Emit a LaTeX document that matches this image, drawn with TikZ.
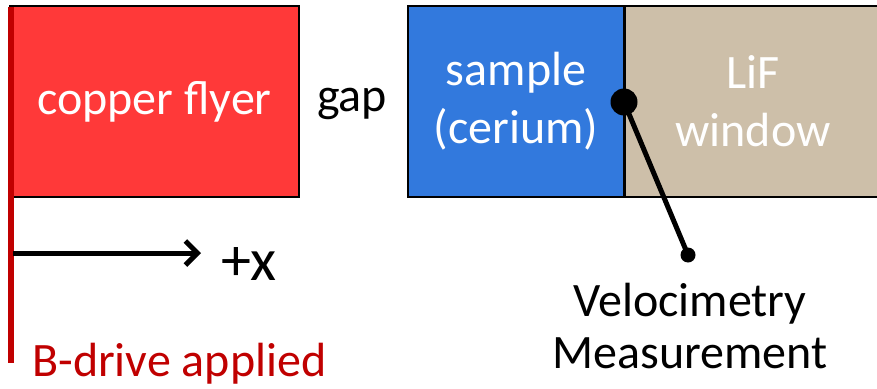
\documentclass[tikz,border=0pt]{standalone}
\usepackage{fontspec}
\setmainfont{Carlito}
\usetikzlibrary{arrows.meta}

\definecolor{flyerred}{HTML}{FF3939}
\definecolor{drivered}{HTML}{C00000}
\definecolor{ceblue}{HTML}{3279DD}
\definecolor{liftan}{HTML}{CDBFA9}

\tikzset{
  block/.style={draw=black, line width=2pt, inner sep=0pt, text=white,
    align=center, font=\fontsize{48}{58}\selectfont},
  label/.style={inner sep=0pt, align=center, font=\fontsize{48}{52}\selectfont}
}

\begin{document}
\begin{tikzpicture}[x=1pt,y=-1pt]
\useasboundingbox (0,0) rectangle (877,388);

\node[block, fill=flyerred, minimum width=289pt, minimum height=191pt] (a1) at (154.5,101.5) {copper flyer};
\node[block, fill=ceblue, minimum width=216pt, minimum height=191pt] (a2) at (516,101.5) {sample\\(cerium)};
\node[block, fill=liftan, minimum width=256pt, minimum height=191pt, anchor=west] (a3) at (624,101.5) {LiF\\window};

\node[label] (a4) at (352,104) {gap};
\node[label, font=\fontsize{60}{64}\selectfont] (a5) at (249,264) {+x};
\node[label, text=drivered, anchor=west] (a6) at (32,364) {B-drive applied};
\node[label] (a7) at (690,326) {Velocimetry\\Measurement};

\coordinate (b1) at (11,7);
\coordinate (b2) at (11,363);
\coordinate (c1) at (13,253);
\coordinate (c2) at (201,253);
\coordinate (d1) at (624,102);
\coordinate (d2) at (688,255);

\draw[drivered, line width=6pt] (b1) -- (b2);
\draw[line width=5pt, -{Straight Barb[length=12pt,width=24pt,line width=5pt]}] (c1) -- (c2);
\draw[line width=5pt] (d1) -- (d2);
\fill (d1) circle (13.5);
\fill (d2) circle (7.5);

\end{tikzpicture}
\end{document}
